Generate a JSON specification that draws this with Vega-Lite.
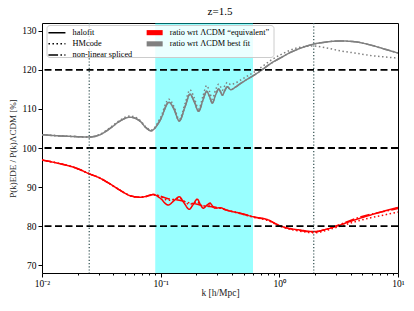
{
  "$schema": "https://vega.github.io/schema/vega-lite/v6.json",
  "width": 356,
  "height": 250,
  "autosize": {"type": "none"},
  "padding": {"left": 42, "top": 23, "right": 16, "bottom": 38},
  "background": "white",
  "title": {"text": "z=1.5", "font": "Liberation Serif", "fontSize": 11, "fontWeight": "normal", "offset": 5, "color": "black"},
  "config": {
    "view": {"stroke": "black", "strokeWidth": 1},
    "axis": {"labelFont": "Liberation Serif", "titleFont": "Liberation Serif", "labelColor": "black", "titleColor": "#222222", "domainColor": "black", "tickColor": "black", "grid": false, "titleFontWeight": "normal"},
    "axisX": {
      "titleFontSize": 9.5, "titlePadding": 0,
      "values": [0.01,0.02,0.03,0.04,0.05,0.06,0.07,0.08,0.09,0.1,0.2,0.3,0.4,0.5,0.6,0.7,0.8,0.9,1,2,3,4,5,6,7,8,9,10],
      "labelExpr": "abs(datum.value-0.01)<1e-6 ? '10⁻²' : abs(datum.value-0.1)<1e-6 ? '10⁻¹' : abs(datum.value-1)<1e-6 ? '10⁰' : abs(datum.value-10)<1e-6 ? '10¹' : ''",
      "labelFontSize": 9.5, "labelPadding": 1, "labelFlush": false,
      "tickSize": {"condition": {"test": "abs(log(datum.value)/LN10 - round(log(datum.value)/LN10)) < 0.001", "value": 4}, "value": 2},
      "domain": false
    },
    "axisY": {
      "titleFontSize": 9, "titlePadding": 4,
      "values": [70, 80, 90, 100, 110, 120, 130],
      "labelFontSize": 9.5, "labelPadding": 2, "tickSize": 4, "domain": false
    }
  },
  "datasets": {
    "curves": [
      {"r":"bf","m":"halofit","k":0.01,"v":103.4},{"r":"bf","m":"halofit","k":0.0141,"v":103.1},{"r":"bf","m":"halofit","k":0.02,"v":102.9},{"r":"bf","m":"halofit","k":0.025,"v":102.8},{"r":"bf","m":"halofit","k":0.0308,"v":103.4},{"r":"bf","m":"halofit","k":0.0374,"v":105.0},{"r":"bf","m":"halofit","k":0.0454,"v":106.9},{"r":"bf","m":"halofit","k":0.0551,"v":107.9},{"r":"bf","m":"halofit","k":0.0669,"v":106.9},{"r":"bf","m":"halofit","k":0.0752,"v":105.2},{"r":"bf","m":"halofit","k":0.0828,"v":104.4},{"r":"bf","m":"halofit","k":0.0986,"v":107.0},{"r":"bf","m":"halofit","k":0.1175,"v":111.7},{"r":"bf","m":"halofit","k":0.1294,"v":110.0},{"r":"bf","m":"halofit","k":0.1435,"v":106.9},{"r":"bf","m":"halofit","k":0.1603,"v":110.5},{"r":"bf","m":"halofit","k":0.1767,"v":113.8},{"r":"bf","m":"halofit","k":0.1909,"v":112.0},{"r":"bf","m":"halofit","k":0.2091,"v":109.4},{"r":"bf","m":"halofit","k":0.2273,"v":112.3},{"r":"bf","m":"halofit","k":0.2443,"v":114.5},{"r":"bf","m":"halofit","k":0.2578,"v":113.2},{"r":"bf","m":"halofit","k":0.2723,"v":111.5},{"r":"bf","m":"halofit","k":0.2897,"v":113.5},{"r":"bf","m":"halofit","k":0.3082,"v":115.1},{"r":"bf","m":"halofit","k":0.3192,"v":114.4},{"r":"bf","m":"halofit","k":0.3306,"v":113.5},{"r":"bf","m":"halofit","k":0.3483,"v":114.8},{"r":"bf","m":"halofit","k":0.3643,"v":115.7},{"r":"bf","m":"halofit","k":0.3766,"v":115.3},{"r":"bf","m":"halofit","k":0.3892,"v":114.9},{"r":"bf","m":"halofit","k":0.4229,"v":115.5},{"r":"bf","m":"halofit","k":0.4659,"v":116.4},{"r":"bf","m":"halofit","k":0.5236,"v":117.4},{"r":"bf","m":"halofit","k":0.6029,"v":118.5},{"r":"bf","m":"halofit","k":0.7134,"v":120.0},{"r":"bf","m":"halofit","k":0.8331,"v":121.5},{"r":"bf","m":"halofit","k":1.012,"v":123.0},{"r":"bf","m":"halofit","k":1.228,"v":124.4},{"r":"bf","m":"halofit","k":1.492,"v":125.5},{"r":"bf","m":"halofit","k":1.946,"v":126.6},{"r":"bf","m":"halofit","k":2.422,"v":127.1},{"r":"bf","m":"halofit","k":3.242,"v":127.4},{"r":"bf","m":"halofit","k":4.336,"v":127.2},{"r":"bf","m":"halofit","k":5.8,"v":126.4},{"r":"bf","m":"halofit","k":7.76,"v":125.3},{"r":"bf","m":"halofit","k":10,"v":124.3},

      {"r":"bf","m":"HMcode","k":0.01,"v":103.4},{"r":"bf","m":"HMcode","k":0.0141,"v":103.1},{"r":"bf","m":"HMcode","k":0.02,"v":102.9},{"r":"bf","m":"HMcode","k":0.025,"v":102.8},{"r":"bf","m":"HMcode","k":0.0308,"v":103.5},{"r":"bf","m":"HMcode","k":0.0374,"v":105.2},{"r":"bf","m":"HMcode","k":0.0454,"v":107.1},{"r":"bf","m":"HMcode","k":0.0551,"v":108.2},{"r":"bf","m":"HMcode","k":0.0669,"v":107.1},{"r":"bf","m":"HMcode","k":0.0752,"v":105.4},{"r":"bf","m":"HMcode","k":0.0828,"v":104.6},{"r":"bf","m":"HMcode","k":0.0986,"v":107.5},{"r":"bf","m":"HMcode","k":0.1175,"v":112.5},{"r":"bf","m":"HMcode","k":0.1294,"v":110.6},{"r":"bf","m":"HMcode","k":0.1435,"v":107.3},{"r":"bf","m":"HMcode","k":0.1603,"v":111.3},{"r":"bf","m":"HMcode","k":0.1767,"v":114.9},{"r":"bf","m":"HMcode","k":0.1909,"v":113.0},{"r":"bf","m":"HMcode","k":0.2091,"v":110.0},{"r":"bf","m":"HMcode","k":0.2273,"v":113.3},{"r":"bf","m":"HMcode","k":0.2443,"v":116.0},{"r":"bf","m":"HMcode","k":0.2578,"v":114.5},{"r":"bf","m":"HMcode","k":0.2723,"v":112.5},{"r":"bf","m":"HMcode","k":0.2897,"v":114.8},{"r":"bf","m":"HMcode","k":0.3082,"v":116.3},{"r":"bf","m":"HMcode","k":0.3192,"v":115.7},{"r":"bf","m":"HMcode","k":0.3306,"v":114.8},{"r":"bf","m":"HMcode","k":0.3483,"v":116.0},{"r":"bf","m":"HMcode","k":0.3643,"v":116.8},{"r":"bf","m":"HMcode","k":0.3766,"v":116.5},{"r":"bf","m":"HMcode","k":0.3892,"v":116.2},{"r":"bf","m":"HMcode","k":0.4229,"v":116.6},{"r":"bf","m":"HMcode","k":0.4659,"v":117.3},{"r":"bf","m":"HMcode","k":0.5236,"v":118.2},{"r":"bf","m":"HMcode","k":0.6029,"v":119.3},{"r":"bf","m":"HMcode","k":0.7134,"v":120.8},{"r":"bf","m":"HMcode","k":0.8331,"v":122.3},{"r":"bf","m":"HMcode","k":1.012,"v":123.8},{"r":"bf","m":"HMcode","k":1.228,"v":125.0},{"r":"bf","m":"HMcode","k":1.492,"v":125.8},{"r":"bf","m":"HMcode","k":1.946,"v":126.1},{"r":"bf","m":"HMcode","k":2.422,"v":125.7},{"r":"bf","m":"HMcode","k":3.242,"v":124.9},{"r":"bf","m":"HMcode","k":4.336,"v":124.3},{"r":"bf","m":"HMcode","k":5.8,"v":123.7},{"r":"bf","m":"HMcode","k":7.76,"v":123.3},{"r":"bf","m":"HMcode","k":10,"v":123.0},

      {"r":"bf","m":"spliced","k":0.01,"v":103.4},{"r":"bf","m":"spliced","k":0.0141,"v":103.1},{"r":"bf","m":"spliced","k":0.02,"v":102.9},{"r":"bf","m":"spliced","k":0.025,"v":102.8},{"r":"bf","m":"spliced","k":0.0308,"v":103.4},{"r":"bf","m":"spliced","k":0.0374,"v":105.0},{"r":"bf","m":"spliced","k":0.0454,"v":106.9},{"r":"bf","m":"spliced","k":0.0551,"v":107.9},{"r":"bf","m":"spliced","k":0.0669,"v":106.9},{"r":"bf","m":"spliced","k":0.0752,"v":105.2},{"r":"bf","m":"spliced","k":0.0828,"v":104.4},{"r":"bf","m":"spliced","k":0.0986,"v":107.0},{"r":"bf","m":"spliced","k":0.1175,"v":111.7},{"r":"bf","m":"spliced","k":0.1294,"v":110.0},{"r":"bf","m":"spliced","k":0.1435,"v":106.9},{"r":"bf","m":"spliced","k":0.1603,"v":110.5},{"r":"bf","m":"spliced","k":0.1767,"v":113.8},{"r":"bf","m":"spliced","k":0.1909,"v":112.0},{"r":"bf","m":"spliced","k":0.2091,"v":109.4},{"r":"bf","m":"spliced","k":0.2273,"v":112.3},{"r":"bf","m":"spliced","k":0.2443,"v":114.5},{"r":"bf","m":"spliced","k":0.2578,"v":113.2},{"r":"bf","m":"spliced","k":0.2723,"v":111.5},{"r":"bf","m":"spliced","k":0.2897,"v":113.5},{"r":"bf","m":"spliced","k":0.3082,"v":115.1},{"r":"bf","m":"spliced","k":0.3192,"v":114.4},{"r":"bf","m":"spliced","k":0.3306,"v":113.5},{"r":"bf","m":"spliced","k":0.3483,"v":114.8},{"r":"bf","m":"spliced","k":0.3643,"v":115.7},{"r":"bf","m":"spliced","k":0.3766,"v":115.3},{"r":"bf","m":"spliced","k":0.3892,"v":114.9},{"r":"bf","m":"spliced","k":0.4229,"v":115.5},{"r":"bf","m":"spliced","k":0.4659,"v":116.4},{"r":"bf","m":"spliced","k":0.5236,"v":117.4},{"r":"bf","m":"spliced","k":0.6029,"v":118.5},{"r":"bf","m":"spliced","k":0.7134,"v":120.0},{"r":"bf","m":"spliced","k":0.8331,"v":121.5},{"r":"bf","m":"spliced","k":1.012,"v":123.0},{"r":"bf","m":"spliced","k":1.228,"v":124.4},{"r":"bf","m":"spliced","k":1.492,"v":125.5},{"r":"bf","m":"spliced","k":1.946,"v":126.6},{"r":"bf","m":"spliced","k":2.422,"v":127.1},{"r":"bf","m":"spliced","k":3.242,"v":127.4},{"r":"bf","m":"spliced","k":4.336,"v":127.2},{"r":"bf","m":"spliced","k":5.8,"v":126.4},{"r":"bf","m":"spliced","k":7.76,"v":125.3},{"r":"bf","m":"spliced","k":10,"v":124.3},

      {"r":"eq","m":"halofit","k":0.01,"v":96.9},{"r":"eq","m":"halofit","k":0.0141,"v":96.0},{"r":"eq","m":"halofit","k":0.02,"v":94.7},{"r":"eq","m":"halofit","k":0.025,"v":93.4},{"r":"eq","m":"halofit","k":0.0308,"v":92.3},{"r":"eq","m":"halofit","k":0.0374,"v":90.8},{"r":"eq","m":"halofit","k":0.0454,"v":89.2},{"r":"eq","m":"halofit","k":0.0551,"v":87.8},{"r":"eq","m":"halofit","k":0.0669,"v":87.4},{"r":"eq","m":"halofit","k":0.0752,"v":87.6},{"r":"eq","m":"halofit","k":0.0866,"v":88.1},{"r":"eq","m":"halofit","k":0.0986,"v":87.2},{"r":"eq","m":"halofit","k":0.1158,"v":85.4},{"r":"eq","m":"halofit","k":0.1294,"v":86.5},{"r":"eq","m":"halofit","k":0.1435,"v":87.5},{"r":"eq","m":"halofit","k":0.157,"v":86.0},{"r":"eq","m":"halofit","k":0.1741,"v":84.3},{"r":"eq","m":"halofit","k":0.1875,"v":85.5},{"r":"eq","m":"halofit","k":0.2033,"v":86.9},{"r":"eq","m":"halofit","k":0.2163,"v":85.5},{"r":"eq","m":"halofit","k":0.2285,"v":84.6},{"r":"eq","m":"halofit","k":0.2443,"v":85.3},{"r":"eq","m":"halofit","k":0.2603,"v":85.9},{"r":"eq","m":"halofit","k":0.2729,"v":85.2},{"r":"eq","m":"halofit","k":0.2865,"v":84.6},{"r":"eq","m":"halofit","k":0.3162,"v":84.7},{"r":"eq","m":"halofit","k":0.36,"v":84.1},{"r":"eq","m":"halofit","k":0.4659,"v":83.3},{"r":"eq","m":"halofit","k":0.6029,"v":82.4},{"r":"eq","m":"halofit","k":0.806,"v":81.6},{"r":"eq","m":"halofit","k":1.012,"v":80.1},{"r":"eq","m":"halofit","k":1.228,"v":79.4},{"r":"eq","m":"halofit","k":1.492,"v":79.0},{"r":"eq","m":"halofit","k":1.946,"v":78.6},{"r":"eq","m":"halofit","k":2.422,"v":79.1},{"r":"eq","m":"halofit","k":3.04,"v":80.0},{"r":"eq","m":"halofit","k":4.336,"v":81.6},{"r":"eq","m":"halofit","k":5.8,"v":82.8},{"r":"eq","m":"halofit","k":7.76,"v":83.9},{"r":"eq","m":"halofit","k":10,"v":84.8},

      {"r":"eq","m":"HMcode","k":0.01,"v":96.9},{"r":"eq","m":"HMcode","k":0.0141,"v":96.0},{"r":"eq","m":"HMcode","k":0.02,"v":94.7},{"r":"eq","m":"HMcode","k":0.025,"v":93.4},{"r":"eq","m":"HMcode","k":0.0308,"v":92.3},{"r":"eq","m":"HMcode","k":0.0374,"v":90.8},{"r":"eq","m":"HMcode","k":0.0454,"v":89.2},{"r":"eq","m":"HMcode","k":0.0551,"v":87.8},{"r":"eq","m":"HMcode","k":0.0669,"v":87.4},{"r":"eq","m":"HMcode","k":0.0752,"v":87.6},{"r":"eq","m":"HMcode","k":0.0866,"v":88.0},{"r":"eq","m":"HMcode","k":0.0986,"v":87.6},{"r":"eq","m":"HMcode","k":0.1158,"v":86.6},{"r":"eq","m":"HMcode","k":0.1294,"v":86.8},{"r":"eq","m":"HMcode","k":0.1435,"v":87.2},{"r":"eq","m":"HMcode","k":0.157,"v":86.4},{"r":"eq","m":"HMcode","k":0.1741,"v":85.6},{"r":"eq","m":"HMcode","k":0.1875,"v":85.8},{"r":"eq","m":"HMcode","k":0.2033,"v":86.2},{"r":"eq","m":"HMcode","k":0.2163,"v":85.5},{"r":"eq","m":"HMcode","k":0.2285,"v":85.0},{"r":"eq","m":"HMcode","k":0.2443,"v":85.2},{"r":"eq","m":"HMcode","k":0.2603,"v":85.4},{"r":"eq","m":"HMcode","k":0.2729,"v":85.0},{"r":"eq","m":"HMcode","k":0.2865,"v":84.7},{"r":"eq","m":"HMcode","k":0.3162,"v":84.6},{"r":"eq","m":"HMcode","k":0.36,"v":84.1},{"r":"eq","m":"HMcode","k":0.4659,"v":83.2},{"r":"eq","m":"HMcode","k":0.6029,"v":82.3},{"r":"eq","m":"HMcode","k":0.806,"v":81.4},{"r":"eq","m":"HMcode","k":1.012,"v":80.0},{"r":"eq","m":"HMcode","k":1.228,"v":79.2},{"r":"eq","m":"HMcode","k":1.492,"v":78.7},{"r":"eq","m":"HMcode","k":1.946,"v":78.3},{"r":"eq","m":"HMcode","k":2.422,"v":78.8},{"r":"eq","m":"HMcode","k":3.04,"v":79.7},{"r":"eq","m":"HMcode","k":4.336,"v":81.1},{"r":"eq","m":"HMcode","k":5.8,"v":82.1},{"r":"eq","m":"HMcode","k":7.76,"v":82.9},{"r":"eq","m":"HMcode","k":10,"v":83.6},

      {"r":"eq","m":"spliced","k":0.01,"v":96.9},{"r":"eq","m":"spliced","k":0.0141,"v":96.0},{"r":"eq","m":"spliced","k":0.02,"v":94.7},{"r":"eq","m":"spliced","k":0.025,"v":93.4},{"r":"eq","m":"spliced","k":0.0308,"v":92.3},{"r":"eq","m":"spliced","k":0.0374,"v":90.8},{"r":"eq","m":"spliced","k":0.0454,"v":89.2},{"r":"eq","m":"spliced","k":0.0551,"v":87.8},{"r":"eq","m":"spliced","k":0.0669,"v":87.4},{"r":"eq","m":"spliced","k":0.0752,"v":87.6},{"r":"eq","m":"spliced","k":0.0866,"v":88.1},{"r":"eq","m":"spliced","k":0.1158,"v":87.0},{"r":"eq","m":"spliced","k":0.1435,"v":86.6},{"r":"eq","m":"spliced","k":0.1741,"v":86.0},{"r":"eq","m":"spliced","k":0.2033,"v":85.6},{"r":"eq","m":"spliced","k":0.2285,"v":85.2},{"r":"eq","m":"spliced","k":0.2603,"v":85.0},{"r":"eq","m":"spliced","k":0.3162,"v":84.6},{"r":"eq","m":"spliced","k":0.36,"v":84.1},{"r":"eq","m":"spliced","k":0.4659,"v":83.3},{"r":"eq","m":"spliced","k":0.6029,"v":82.4},{"r":"eq","m":"spliced","k":0.806,"v":81.5},{"r":"eq","m":"spliced","k":1.012,"v":80.1},{"r":"eq","m":"spliced","k":1.228,"v":79.3},{"r":"eq","m":"spliced","k":1.492,"v":78.9},{"r":"eq","m":"spliced","k":1.946,"v":78.5},{"r":"eq","m":"spliced","k":2.422,"v":79.1},{"r":"eq","m":"spliced","k":3.04,"v":80.1},{"r":"eq","m":"spliced","k":4.336,"v":81.9},{"r":"eq","m":"spliced","k":5.8,"v":83.0},{"r":"eq","m":"spliced","k":7.76,"v":83.8},{"r":"eq","m":"spliced","k":10,"v":84.5}
    ]
  },
  "layer": [
    {
      "data": {"values": [{"k": 0.09, "k2": 0.6}]},
      "mark": {"type": "rect", "color": "#00ffff", "opacity": 0.4},
      "encoding": {
        "x": {"field": "k", "type": "quantitative", "title": "k [h/Mpc]", "scale": {"type": "log", "domain": [0.01, 10], "nice": false}},
        "x2": {"field": "k2"}
      }
    },
    {
      "data": {"name": "curves"},
      "mark": {"type": "line", "strokeWidth": 1.5, "interpolate": "monotone", "clip": true},
      "encoding": {
        "x": {"field": "k", "type": "quantitative", "title": "k [h/Mpc]", "scale": {"type": "log", "domain": [0.01, 10], "nice": false}},
        "y": {"field": "v", "type": "quantitative", "title": "P(k)EDE / P(k)ΛCDM [%]", "scale": {"domain": [68, 132], "nice": false, "zero": false}},
        "color": {
          "field": "r", "type": "nominal",
          "scale": {"domain": ["eq", "bf"], "range": ["#ff0000", "#808080"]},
          "legend": {
            "orient": "none", "legendX": 4.5, "legendY": 2, "padding": 3.5,
            "title": ["M", "M", "M"], "titleOrient": "left", "titleFontSize": 8.5, "titleLineHeight": 10.5, "titlePadding": 91.5, "titleColor": "rgba(0,0,0,0)", "titleFont": "Liberation Serif",
            "symbolType": "M-2.67,-0.85H2.67V0.85H-2.67Z", "symbolSize": 36, "symbolStrokeWidth": 0,
            "labelOffset": 11, "labelFont": "Liberation Serif", "labelFontSize": 8.3, "rowPadding": 2.2,
            "labelExpr": "datum.value == 'eq' ? 'ratio wrt ΛCDM “equivalent”' : 'ratio wrt ΛCDM best fit'",
            "fillColor": "rgba(255,255,255,0.8)", "strokeColor": "#cccccc", "cornerRadius": 3,
            "encode": {"symbols": {"update": {"fill": {"scale": "color", "field": "value"}, "stroke": {"value": "transparent"}, "opacity": {"value": 1}}}}
          }
        },
        "strokeDash": {
          "field": "m", "type": "nominal",
          "scale": {"domain": ["halofit", "HMcode", "spliced"], "range": [[1, 0], [1.5, 2.5], [9.6, 2.4, 1.5, 2.4]]},
          "legend": {
            "orient": "none", "legendX": 7.3, "legendY": 2, "padding": 3.5, "title": null,
            "symbolType": "M-2.83,0H2.83", "symbolSize": 36, "symbolStrokeColor": "black", "symbolStrokeWidth": 1.5,
            "labelOffset": 11.5, "labelFont": "Liberation Serif", "labelFontSize": 8.3, "rowPadding": 2.2,
            "labelExpr": "datum.value == 'spliced' ? 'non-linear spliced' : datum.value"
          }
        },
        "detail": {"field": "r"}
      }
    },
    {
      "data": {"values": [{"v": 80}, {"v": 100}, {"v": 120}]},
      "mark": {"type": "rule", "color": "black", "strokeWidth": 1.8, "strokeDash": [7, 3.5]},
      "encoding": {"y": {"field": "v", "type": "quantitative", "title": "P(k)EDE / P(k)ΛCDM [%]"}}
    },
    {
      "data": {"values": [{"k": 0.025}, {"k": 1.95}]},
      "mark": {"type": "rule", "color": "#2f4f4f", "strokeWidth": 1.2, "strokeDash": [1.2, 2]},
      "encoding": {"x": {"field": "k", "type": "quantitative", "title": "k [h/Mpc]"}}
    }
  ]
}
